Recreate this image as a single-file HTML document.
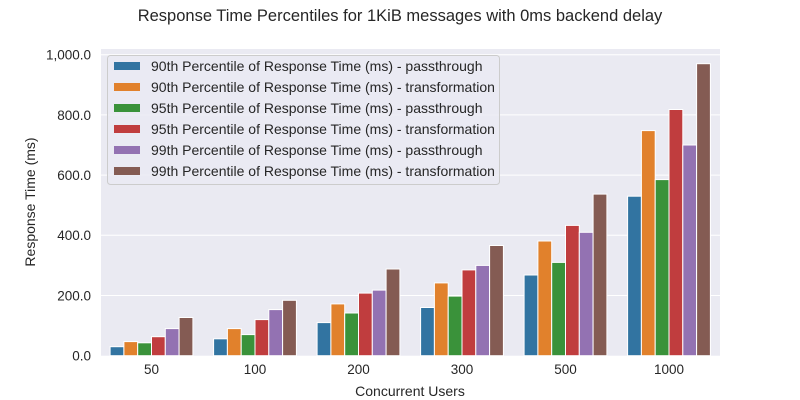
<!DOCTYPE html>
<html><head><meta charset="utf-8"><style>body{margin:0;background:#fff}svg{display:block}text{font-family:"Liberation Sans",sans-serif;fill:#262626}</style></head><body>
<svg width="800" height="400" xmlns="http://www.w3.org/2000/svg">
<rect x="101" y="49" width="619" height="306.7" fill="#eaeaf2"/>
<g stroke="#fff" stroke-width="1">
<line x1="101" x2="720" y1="54.7" y2="54.7"/><line x1="101" x2="720" y1="114.9" y2="114.9"/><line x1="101" x2="720" y1="175.1" y2="175.1"/><line x1="101" x2="720" y1="235.3" y2="235.3"/><line x1="101" x2="720" y1="295.5" y2="295.5"/>
</g>
<g stroke="#fff" stroke-width="1">
<rect x="110.1" y="346.7" width="13.8" height="9" fill="#3274a1"/>
<rect x="123.9" y="341.6" width="13.8" height="14.1" fill="#e1812c"/>
<rect x="137.7" y="342.8" width="13.8" height="12.9" fill="#3a923a"/>
<rect x="151.5" y="336.7" width="13.8" height="19" fill="#c03d3e"/>
<rect x="165.3" y="328.6" width="13.8" height="27.1" fill="#9372b2"/>
<rect x="179.1" y="317.5" width="13.8" height="38.2" fill="#845b53"/>
<rect x="213.6" y="338.8" width="13.8" height="16.9" fill="#3274a1"/>
<rect x="227.4" y="328.6" width="13.8" height="27.1" fill="#e1812c"/>
<rect x="241.2" y="334.6" width="13.8" height="21.1" fill="#3a923a"/>
<rect x="255" y="319.6" width="13.8" height="36.1" fill="#c03d3e"/>
<rect x="268.8" y="309.6" width="13.8" height="46.1" fill="#9372b2"/>
<rect x="282.6" y="300.3" width="13.8" height="55.4" fill="#845b53"/>
<rect x="317.1" y="322.6" width="13.8" height="33.1" fill="#3274a1"/>
<rect x="330.9" y="303.9" width="13.8" height="51.8" fill="#e1812c"/>
<rect x="344.7" y="313" width="13.8" height="42.7" fill="#3a923a"/>
<rect x="358.5" y="293.1" width="13.8" height="62.6" fill="#c03d3e"/>
<rect x="372.3" y="290.1" width="13.8" height="65.6" fill="#9372b2"/>
<rect x="386.1" y="269" width="13.8" height="86.7" fill="#845b53"/>
<rect x="420.6" y="307.5" width="13.8" height="48.2" fill="#3274a1"/>
<rect x="434.4" y="282.9" width="13.8" height="72.8" fill="#e1812c"/>
<rect x="448.2" y="296.1" width="13.8" height="59.6" fill="#3a923a"/>
<rect x="462" y="269.9" width="13.8" height="85.8" fill="#c03d3e"/>
<rect x="475.8" y="265.4" width="13.8" height="90.3" fill="#9372b2"/>
<rect x="489.6" y="245.5" width="13.8" height="110.2" fill="#845b53"/>
<rect x="524.1" y="275" width="13.8" height="80.7" fill="#3274a1"/>
<rect x="537.9" y="241" width="13.8" height="114.7" fill="#e1812c"/>
<rect x="551.7" y="262.4" width="13.8" height="93.3" fill="#3a923a"/>
<rect x="565.5" y="225.4" width="13.8" height="130.3" fill="#c03d3e"/>
<rect x="579.3" y="232.3" width="13.8" height="123.4" fill="#9372b2"/>
<rect x="593.1" y="194.1" width="13.8" height="161.6" fill="#845b53"/>
<rect x="627.6" y="196.2" width="13.8" height="159.5" fill="#3274a1"/>
<rect x="641.4" y="130.6" width="13.8" height="225.1" fill="#e1812c"/>
<rect x="655.2" y="179.6" width="13.8" height="176.1" fill="#3a923a"/>
<rect x="669" y="109.5" width="13.8" height="246.2" fill="#c03d3e"/>
<rect x="682.8" y="145" width="13.8" height="210.7" fill="#9372b2"/>
<rect x="696.6" y="63.7" width="13.8" height="292" fill="#845b53"/>
</g>
<g font-size="13.5" text-anchor="end">
<text x="91" y="360.5">0.0</text><text x="91" y="300.5">200.0</text><text x="91" y="240">400.0</text><text x="91" y="180">600.0</text><text x="91" y="120">800.0</text><text x="91" y="59.5">1,000.0</text>
</g>
<g font-size="13.5" text-anchor="middle">
<text x="151.5" y="374">50</text><text x="255" y="374">100</text><text x="358.5" y="374">200</text><text x="462" y="374">300</text><text x="565.5" y="374">500</text><text x="669" y="374">1000</text>
</g>
<g font-size="14" text-anchor="middle">
<text x="410" y="396">Concurrent Users</text>
<text transform="translate(35,202) rotate(-90)">Response Time (ms)</text>
<text x="400" y="21" font-size="16.5">Response Time Percentiles for 1KiB messages with 0ms backend delay</text>
</g>
<rect x="107.5" y="55.5" width="392" height="129" rx="3" fill="#eaeaf2" fill-opacity="0.8" stroke="#ccc"/>
<g font-size="14">
<rect x="114" y="62" width="26" height="8" fill="#3274a1"/><text x="151" y="71">90th Percentile of Response Time (ms) - passthrough</text>
<rect x="114" y="83" width="26" height="8" fill="#e1812c"/><text x="151" y="92">90th Percentile of Response Time (ms) - transformation</text>
<rect x="114" y="104" width="26" height="8" fill="#3a923a"/><text x="151" y="113">95th Percentile of Response Time (ms) - passthrough</text>
<rect x="114" y="125" width="26" height="8" fill="#c03d3e"/><text x="151" y="134">95th Percentile of Response Time (ms) - transformation</text>
<rect x="114" y="146" width="26" height="8" fill="#9372b2"/><text x="151" y="155">99th Percentile of Response Time (ms) - passthrough</text>
<rect x="114" y="167" width="26" height="8" fill="#845b53"/><text x="151" y="176">99th Percentile of Response Time (ms) - transformation</text>
</g>
</svg>
</body></html>
